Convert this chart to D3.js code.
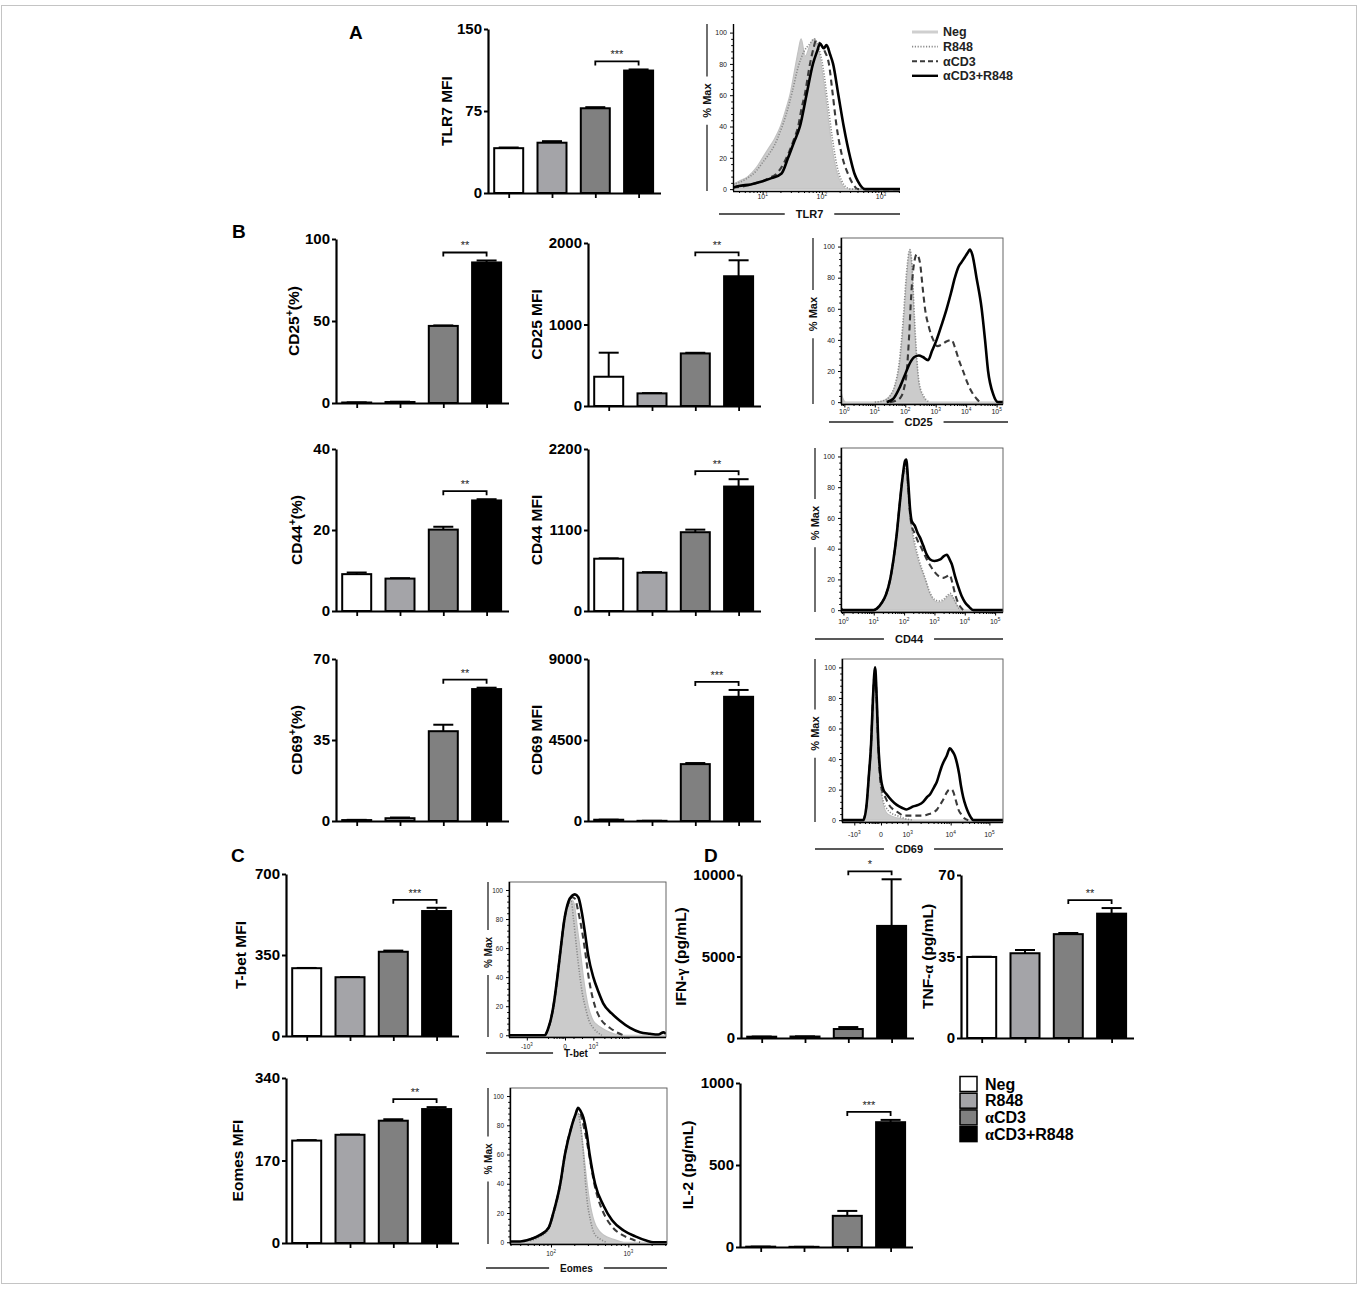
<!DOCTYPE html>
<html>
<head>
<meta charset="utf-8">
<script src="https://cdn.jsdelivr.net/npm/d3@7"></script>
<style>
  body { margin: 0; background: #fff; }
  svg text { font-family: "Liberation Sans", Arial, Helvetica, sans-serif; }
</style>
</head>
<body>
<svg id="fig" width="1360" height="1290"></svg>
<script>
// ---------- groups ----------
const groups = ["Neg", "R848", "αCD3", "αCD3+R848"];
const groupFill = ["#ffffff", "#a4a4a8", "#808080", "#000000"];

// ---------- bar panels (mean, SEM) ----------
const tlr7Mean = [41, 46, 77.5, 112];
const tlr7Err = [0.6, 1.4, 1.0, 1.0];
const tlr7Ticks = [0, 75, 150];

const cd25PctMean = [0.3, 0.6, 47, 85.7];
const cd25PctErr = [0.1, 0.2, 0.3, 1.2];
const cd25PctTicks = [0, 50, 100];

const cd25MfiMean = [359, 155, 645, 1592];
const cd25MfiErr = [295, 3, 8, 196];
const cd25MfiTicks = [0, 1000, 2000];

const cd44PctMean = [9.1, 8.0, 20.1, 27.3];
const cd44PctErr = [0.4, 0.1, 0.7, 0.3];
const cd44PctTicks = [0, 20, 40];

const cd44MfiMean = [710, 520, 1070, 1690];
const cd44MfiErr = [5, 8, 35, 100];
const cd44MfiTicks = [0, 1100, 2200];

const cd69PctMean = [0.4, 1.2, 38.8, 57];
const cd69PctErr = [0.1, 0.3, 2.8, 0.6];
const cd69PctTicks = [0, 35, 70];

const cd69MfiMean = [70, 10, 3160, 6900];
const cd69MfiErr = [5, 2, 60, 380];
const cd69MfiTicks = [0, 4500, 9000];

const tbetMean = [293, 254, 364, 540];
const tbetErr = [1, 1, 5, 14];
const tbetTicks = [0, 350, 700];

const eomesMean = [211, 223, 252, 276];
const eomesErr = [1, 0.5, 3, 4];
const eomesTicks = [0, 170, 340];

const ifngMean = [80, 90, 551, 6877];
const ifngErr = [10, 10, 120, 2860];
const ifngTicks = [0, 5000, 10000];

const tnfaMean = [34.8, 36.4, 44.6, 53.4];
const tnfaErr = [0.1, 1.4, 0.5, 2.4];
const tnfaTicks = [0, 35, 70];

const il2Mean = [2, 1, 190, 761];
const il2Err = [0.5, 0.2, 30, 14];
const il2Ticks = [0, 500, 1000];

// ---------- histogram overlays: [axis position, % of max] ----------
// TLR7 (log10 fluorescence)
const tlr7Neg = [[0.5,3],[0.6,5],[0.75,8],[0.9,14],[1.0,20],[1.1,26],[1.2,32],[1.3,40],[1.4,52],[1.46,60],[1.55,78],[1.6,88],[1.65,96],[1.72,85],[1.8,92],[1.88,96],[1.95,88],[2.02,72],[2.1,48],[2.18,25],[2.26,10],[2.34,3],[2.42,0],[3.32,0]];
const tlr7R848 = [[0.5,3],[0.7,6],[0.9,12],[1.0,17],[1.1,22],[1.2,28],[1.3,37],[1.4,48],[1.5,62],[1.6,78],[1.7,88],[1.8,93],[1.87,96],[1.95,90],[2.02,78],[2.1,55],[2.18,32],[2.26,14],[2.34,5],[2.42,1],[2.5,0],[3.32,0]];
const tlr7CD3 = [[0.5,1],[0.7,2],[0.9,4],[1.0,5],[1.1,7],[1.24,10],[1.35,16],[1.45,24],[1.53,32],[1.6,40],[1.66,52],[1.71,60],[1.8,80],[1.86,90],[1.9,95],[1.97,93],[2.05,88],[2.12,80],[2.18,62],[2.25,40],[2.35,20],[2.45,9],[2.53,3],[2.61,0],[3.32,0]];
const tlr7Combo = [[0.5,1],[0.6,2],[0.8,3],[1.0,5],[1.15,7],[1.32,10],[1.43,20],[1.53,30],[1.63,40],[1.74,60],[1.85,80],[1.92,88],[1.97,93],[2.03,90],[2.08,92],[2.14,86],[2.19,80],[2.28,60],[2.37,40],[2.48,20],[2.55,10],[2.61,5],[2.73,0],[3.32,0]];

// CD25 (log10)
const cd25Neg = [[-0.11,7],[-0.06,3],[0.05,0],[1.0,0],[1.3,1],[1.5,4],[1.66,10],[1.8,22],[1.94,50],[2.05,80],[2.15,98],[2.22,85],[2.3,50],[2.38,25],[2.46,10],[2.6,3],[2.76,0],[5.21,0]];
const cd25R848 = [[1.0,0],[1.3,1],[1.5,4],[1.66,11],[1.8,25],[1.94,55],[2.05,85],[2.15,98],[2.22,88],[2.3,55],[2.38,28],[2.46,12],[2.6,4],[2.8,0]];
const cd25CD3 = [[1.5,0],[1.7,1],[1.85,3],[1.95,8],[2.05,20],[2.12,40],[2.2,70],[2.28,88],[2.38,95],[2.48,90],[2.58,72],[2.65,60],[2.78,48],[2.92,40],[3.05,36],[3.2,37],[3.35,39],[3.52,40],[3.65,34],[3.78,26],[3.9,20],[4.05,12],[4.2,6],[4.35,2],[4.45,0]];
const cd25Combo = [[1.39,0],[1.6,2],[1.83,10],[2.0,18],[2.15,25],[2.3,29],[2.45,30],[2.58,29],[2.75,27],[2.88,33],[3.03,40],[3.2,50],[3.36,60],[3.5,70],[3.63,80],[3.75,87],[3.85,90],[3.95,93],[4.05,96],[4.12,98],[4.2,95],[4.34,80],[4.51,60],[4.62,40],[4.72,20],[4.89,5],[5.05,0],[5.21,0]];

// CD44 (log10)
const cd44Neg = [[-0.08,2],[0.02,0],[0.99,0],[1.1,1],[1.27,5],[1.4,9],[1.54,18],[1.65,30],[1.76,47],[1.86,67],[1.96,85],[2.03,91],[2.07,90],[2.13,75],[2.2,60],[2.28,48],[2.36,40],[2.5,30],[2.69,20],[2.86,10],[3.0,6],[3.15,5],[3.3,6],[3.45,9],[3.52,10],[3.62,8],[3.72,4],[3.85,0],[5.26,0]];
const cd44R848 = [[0.99,0],[1.1,1],[1.27,5],[1.4,9],[1.54,19],[1.65,31],[1.76,48],[1.86,68],[1.96,86],[2.03,92],[2.07,91],[2.13,77],[2.2,62],[2.28,51],[2.36,43],[2.5,32],[2.69,21],[2.86,11],[3.0,7],[3.15,6],[3.3,7],[3.45,10],[3.52,11],[3.62,8],[3.72,4],[3.85,0]];
const cd44CD3 = [[0.99,0],[1.1,1],[1.27,5],[1.4,10],[1.54,20],[1.65,33],[1.76,50],[1.86,70],[1.96,88],[2.03,95],[2.07,96],[2.13,82],[2.2,62],[2.25,55],[2.35,50],[2.45,45],[2.53,42],[2.63,38],[2.75,33],[2.86,29],[3.0,25],[3.15,22],[3.3,21],[3.41,22],[3.5,23],[3.6,17],[3.7,9],[3.8,4],[3.95,0]];
const cd44Combo = [[-0.08,1],[0.0,0],[0.99,0],[1.1,1],[1.27,5],[1.4,10],[1.54,20],[1.65,33],[1.76,50],[1.86,70],[1.96,88],[2.03,97],[2.07,98],[2.13,85],[2.2,65],[2.25,58],[2.35,55],[2.45,50],[2.53,47],[2.63,42],[2.75,36],[2.86,33],[3.0,32],[3.19,33],[3.3,35],[3.41,36],[3.5,33],[3.57,30],[3.68,22],[3.79,15],[3.9,9],[4.01,5],[4.15,2],[4.28,0],[5.26,0]];

// CD69 (biexponential display channel: 0 = 0, 1 = 10^3)
const cd69Neg = [[-1.46,0],[-0.66,0],[-0.54,10],[-0.45,30],[-0.37,50],[-0.3,78],[-0.22,95],[-0.16,75],[-0.1,45],[-0.02,22],[0.09,10],[0.2,5],[0.35,3],[0.6,1.5],[0.9,0.5],[1.2,0],[4.57,0]];
const cd69R848 = [[-0.66,0],[-0.54,10],[-0.45,30],[-0.37,50],[-0.3,78],[-0.22,96],[-0.16,76],[-0.1,46],[-0.02,25],[0.09,12],[0.2,8],[0.35,5],[0.6,3],[0.9,1],[1.2,0]];
const cd69CD3 = [[-0.66,0],[-0.54,10],[-0.45,30],[-0.37,50],[-0.3,80],[-0.22,99],[-0.16,78],[-0.1,48],[-0.02,25],[0.09,17],[0.16,15],[0.3,10],[0.46,7],[0.65,5],[0.84,3],[1.2,3],[1.58,3],[1.8,4],[1.96,5],[2.1,7],[2.21,10],[2.35,14],[2.46,18],[2.56,20],[2.65,20],[2.72,18],[2.77,15],[2.85,10],[2.9,7],[3.0,4],[3.08,2],[3.27,0]];
const cd69Combo = [[-1.46,0],[-0.66,0],[-0.54,10],[-0.45,30],[-0.37,50],[-0.3,80],[-0.22,100],[-0.16,80],[-0.1,50],[-0.02,30],[0.09,20],[0.21,17],[0.4,13],[0.59,10],[0.8,8],[0.96,7],[1.1,8],[1.21,9],[1.4,10],[1.58,12],[1.72,15],[1.84,17],[2.0,22],[2.09,25],[2.18,30],[2.27,35],[2.37,39],[2.46,42],[2.58,47],[2.68,45],[2.77,42],[2.85,37],[2.93,30],[3.0,22],[3.08,15],[3.18,9],[3.27,5],[3.36,2],[3.46,0],[4.57,0]];

// T-bet (biexponential display channel)
const tbetNeg = [[-0.71,0],[-0.59,4],[-0.5,10],[-0.41,18],[-0.27,38],[-0.15,58],[-0.02,78],[0.12,90],[0.25,93],[0.33,90],[0.43,75],[0.53,60],[0.65,40],[0.82,20],[1.0,10],[1.15,7],[1.3,5],[1.59,2],[2.0,0],[3.57,0]];
const tbetR848 = [[-0.71,0],[-0.59,4],[-0.5,10],[-0.41,18],[-0.27,38],[-0.15,58],[-0.02,78],[0.12,90],[0.22,92],[0.3,80],[0.41,60],[0.53,40],[0.62,28],[0.71,20],[0.85,10],[1.0,5],[1.15,2],[1.3,0]];
const tbetCD3 = [[-0.71,0],[-0.59,5],[-0.5,11],[-0.41,20],[-0.27,40],[-0.15,60],[-0.02,80],[0.12,91],[0.25,95],[0.35,94],[0.47,85],[0.6,72],[0.71,58],[0.82,42],[0.95,28],[1.06,20],[1.18,14],[1.3,10],[1.45,7],[1.59,5],[1.83,2],[2.07,0]];
const tbetCombo = [[-1.98,0],[-0.71,0],[-0.59,5],[-0.5,11],[-0.41,20],[-0.27,40],[-0.15,60],[-0.02,80],[0.12,92],[0.25,96],[0.35,97],[0.47,95],[0.59,85],[0.71,70],[0.82,55],[1.0,40],[1.18,30],[1.35,22],[1.65,15],[1.94,10],[2.3,5],[2.65,2],[3.0,1],[3.3,0.5],[3.48,2],[3.57,1]];

// Eomes (log10)
const eomesNeg = [[1.47,0],[1.6,0],[1.73,1],[1.86,4],[1.97,9],[2.03,18],[2.12,38],[2.18,58],[2.27,80],[2.32,86],[2.35,88],[2.38,82],[2.41,68],[2.45,48],[2.5,28],[2.56,14],[2.62,8],[2.68,5],[2.81,2],[2.94,0],[3.5,0]];
const eomesR848 = [[1.73,1],[1.86,4],[1.97,9],[2.03,18],[2.12,38],[2.18,58],[2.27,80],[2.32,87],[2.35,88],[2.38,80],[2.42,60],[2.46,32],[2.51,15],[2.56,6],[2.64,2],[2.72,0]];
const eomesCD3 = [[1.73,2],[1.86,5],[1.97,10],[2.03,20],[2.12,40],[2.18,60],[2.27,80],[2.32,88],[2.35,91],[2.38,88],[2.42,80],[2.46,70],[2.5,58],[2.56,40],[2.62,28],[2.68,20],[2.8,10],[2.92,5],[3.05,2],[3.15,0]];
const eomesCombo = [[1.47,0.5],[1.6,0.5],[1.73,2],[1.86,5],[1.97,10],[2.03,20],[2.12,40],[2.18,60],[2.27,80],[2.32,88],[2.35,92],[2.38,90],[2.42,85],[2.46,75],[2.5,60],[2.57,40],[2.68,25],[2.79,15],[2.94,8],[3.09,4],[3.24,1],[3.32,0],[3.5,0]];

// biexponential axis labels: [position, base, exponent]
const cd69XTicks = [[-1, "-10", "3"], [0, "0", ""], [1, "10", "3"], [2.61, "10", "4"], [4.06, "10", "5"]];
const tbetXTicks = [[-1.35, "-10", "3"], [0, "0", ""], [1, "10", "3"]];
const histYTicks = [0, 20, 40, 60, 80, 100];

// ---------- drawing ----------
const svg = d3.select("#fig");
const SERIF = "'Liberation Serif', 'Times New Roman', serif";
let clipCount = 0;

// outer frame
svg.append("rect").attr("x", 1.5).attr("y", 5.5).attr("width", 1355).attr("height", 1278)
  .attr("fill", "none").attr("stroke", "#c4c4c4").attr("stroke-width", 1);

// text with optional superscripts / serif Greek letters
function rich(sel, parts, fs) {
  let shift = 0;
  parts.forEach(p => {
    const ts = sel.append("tspan").text(p.t);
    const target = p.sup ? -fs * 0.42 : 0;
    if (target !== shift) { ts.attr("dy", target - shift); shift = target; }
    if (p.sup) ts.attr("font-size", fs * 0.68);
    if (p.serif) ts.attr("font-family", SERIF);
  });
}

function barChart(o) {
  const g = svg.append("g");
  const y = d3.scaleLinear().domain([0, o.max]).range([o.yBot, o.yTop]);
  const first = o.x0 + 20.7, step = 43.3, bw = 29;
  const x = d3.scalePoint().domain(groups).range([first, first + 3 * step]);
  const xEnd = o.x0 + 173;
  const rows = groups.map((k, i) => ({ k, m: o.mean[i], e: o.err[i], fill: groupFill[i] }));

  // error bars (upper SEM)
  const eb = g.selectAll("g.err").data(rows).join("g");
  eb.append("line").attr("x1", d => x(d.k)).attr("x2", d => x(d.k))
    .attr("y1", d => y(d.m)).attr("y2", d => y(d.m + d.e))
    .attr("stroke", "#000").attr("stroke-width", 2);
  eb.append("line").attr("x1", d => x(d.k) - 10).attr("x2", d => x(d.k) + 10)
    .attr("y1", d => y(d.m + d.e)).attr("y2", d => y(d.m + d.e))
    .attr("stroke", "#000").attr("stroke-width", 2);

  // bars
  g.selectAll("rect.bar").data(rows).join("rect").attr("class", "bar")
    .attr("x", d => x(d.k) - bw / 2).attr("y", d => y(d.m))
    .attr("width", bw).attr("height", d => Math.max(0, o.yBot - y(d.m)))
    .attr("fill", d => d.fill).attr("stroke", "#000").attr("stroke-width", 2);

  // x axis
  const xa = g.append("g").attr("transform", `translate(0,${o.yBot})`)
    .call(d3.axisBottom(x).tickSize(5).tickSizeOuter(0).tickFormat(() => ""));
  xa.select(".domain").attr("d", `M${o.x0},0.5H${xEnd}`).attr("stroke-width", 2.2);
  xa.selectAll(".tick line").attr("stroke-width", 1.8);

  // y axis
  const ya = g.append("g").attr("transform", `translate(${o.x0},0)`)
    .call(d3.axisLeft(y).tickValues(o.ticks).tickSize(4).tickSizeOuter(0).tickPadding(2).tickFormat(d => d));
  ya.select(".domain").attr("stroke-width", 2.2);
  ya.selectAll(".tick line").attr("stroke-width", 2);
  ya.selectAll(".tick text").attr("font-size", 15).attr("font-weight", "bold")
    .attr("fill", "#000").style("font-family", "'Liberation Sans', Arial, sans-serif");

  // y label
  const lab = g.append("text")
    .attr("transform", `translate(${o.labelX},${(o.yTop + o.yBot) / 2}) rotate(-90)`)
    .attr("text-anchor", "middle").attr("dy", "0.35em")
    .attr("font-size", 15.5).attr("font-weight", "bold").attr("fill", "#000");
  rich(lab, o.label, 15.5);

  // significance bracket between the two αCD3 groups
  const xa3 = x(groups[2]), xb3 = x(groups[3]);
  const by = Math.min(y(o.mean[2] + o.err[2]), y(o.mean[3] + o.err[3])) - 8;
  g.append("path").attr("d", `M${xa3},${by + 4}V${by}H${xb3}V${by + 4}`)
    .attr("fill", "none").attr("stroke", "#000").attr("stroke-width", 1.8);
  g.append("text").attr("x", (xa3 + xb3) / 2).attr("y", by - 3).attr("text-anchor", "middle")
    .attr("font-size", 11).attr("fill", "#222").text(o.sig);
}

function logTicks(domain) {
  const major = [], minor = [];
  for (let n = Math.floor(domain[0]); n <= Math.ceil(domain[1]); n++) {
    if (n >= domain[0] && n <= domain[1]) major.push([n, "10", String(n)]);
    for (let k = 2; k <= 9; k++) {
      const v = n + Math.log10(k);
      if (v >= domain[0] && v <= domain[1]) minor.push(v);
    }
  }
  return { major, minor };
}

function histPanel(o) {
  const g = svg.append("g");
  const x = d3.scaleLinear().domain(o.xDomain).range([o.L, o.R]);
  const y = d3.scaleLinear().domain([-1.2, 105.5]).range([o.B, o.T]);
  const id = "clip" + (clipCount++);
  g.append("clipPath").attr("id", id).append("rect")
    .attr("x", o.L).attr("y", o.T).attr("width", o.R - o.L).attr("height", o.B - o.T);
  const pg = g.append("g").attr("clip-path", `url(#${id})`);
  const line = d3.line().x(d => x(d[0])).y(d => y(d[1])).curve(d3.curveMonotoneX);
  const area = d3.area().x(d => x(d[0])).y0(y(0)).y1(d => y(d[1])).curve(d3.curveMonotoneX);

  pg.append("path").attr("d", area(o.neg)).attr("fill", "#cbcbcb").attr("stroke", "#c2c2c2").attr("stroke-width", 1.2);
  pg.append("path").attr("d", line(o.r848)).attr("fill", "none").attr("stroke", "#8a8a8a")
    .attr("stroke-width", 1.6).attr("stroke-dasharray", "1.2,1.6");
  pg.append("path").attr("d", line(o.cd3)).attr("fill", "none").attr("stroke", "#3a3a3a")
    .attr("stroke-width", 2.1).attr("stroke-dasharray", "6,4");
  pg.append("path").attr("d", line(o.combo)).attr("fill", "none").attr("stroke", "#000")
    .attr("stroke-width", 2.6).attr("stroke-linejoin", "round");

  if (o.box) {
    g.append("rect").attr("x", o.L).attr("y", o.T).attr("width", o.R - o.L).attr("height", o.B - o.T)
      .attr("fill", "none").attr("stroke", "#555").attr("stroke-width", 0.9);
  }

  // y axis
  const ya = g.append("g").attr("transform", `translate(${o.L},0)`)
    .call(d3.axisLeft(y).tickValues(histYTicks).tickSize(3).tickSizeOuter(0).tickPadding(3));
  ya.select(".domain").attr("d", `M0.5,${o.T}V${o.B}`).attr("stroke-width", 1.4);
  ya.selectAll(".tick text").attr("font-size", o.tickFs).attr("fill", "#222")
    .style("font-family", "'Liberation Sans', Arial, sans-serif");
  const yMinor = d3.range(0, 101, 4).filter(v => v % 20 !== 0);
  const ym = g.append("g").attr("transform", `translate(${o.L},0)`)
    .call(d3.axisLeft(y).tickValues(yMinor).tickSize(1.8).tickFormat(() => ""));
  ym.select(".domain").remove();

  // x axis
  const tk = o.log ? logTicks(o.xDomain) : { major: o.xTicks, minor: o.xMinor };
  const xa = g.append("g").attr("transform", `translate(0,${o.B})`)
    .call(d3.axisBottom(x).tickValues(tk.major.map(d => d[0])).tickSize(3.5).tickSizeOuter(0).tickFormat(() => ""));
  xa.select(".domain").attr("d", `M${o.L},0.5H${o.R}`).attr("stroke-width", 1.4);
  const xm = g.append("g").attr("transform", `translate(0,${o.B})`)
    .call(d3.axisBottom(x).tickValues(tk.minor).tickSize(2).tickFormat(() => ""));
  xm.select(".domain").remove();
  tk.major.forEach(t => {
    const tx = g.append("text").attr("x", x(t[0])).attr("y", o.B + o.tickDy)
      .attr("text-anchor", "middle").attr("font-size", o.tickFs).attr("fill", "#222");
    const parts = [{ t: t[1] }];
    if (t[2]) parts.push({ t: t[2], sup: true });
    rich(tx, parts, o.tickFs);
  });

  // x label with rules either side
  const x1 = o.L - o.lx, x2 = o.R + o.rx, cx = (x1 + x2) / 2, ly = o.B + o.labelDy;
  const xl = g.append("text").attr("x", cx).attr("y", ly).attr("dy", "0.35em").attr("text-anchor", "middle")
    .attr("font-size", o.labFs).attr("font-weight", "bold").attr("fill", "#111").text(o.xLabel);
  const hw = xl.node().getComputedTextLength() / 2 + 11;
  g.append("line").attr("x1", x1).attr("x2", cx - hw).attr("y1", ly).attr("y2", ly).attr("stroke", "#222").attr("stroke-width", 1.3);
  g.append("line").attr("x1", cx + hw).attr("x2", x2).attr("y1", ly).attr("y2", ly).attr("stroke", "#222").attr("stroke-width", 1.3);

  // % Max label with rules above and below
  const px = o.L - o.pm, pyc = (o.T + o.B) / 2 - 7;
  const yl = g.append("text").attr("transform", `translate(${px},${pyc}) rotate(-90)`)
    .attr("text-anchor", "middle").attr("dy", "0.35em")
    .attr("font-size", o.labFs).attr("font-weight", "bold").attr("fill", "#111").text("% Max");
  const vh = yl.node().getComputedTextLength() / 2 + 7;
  g.append("line").attr("x1", px).attr("x2", px).attr("y1", o.T).attr("y2", pyc - vh).attr("stroke", "#222").attr("stroke-width", 1.3);
  g.append("line").attr("x1", px).attr("x2", px).attr("y1", pyc + vh).attr("y2", o.B).attr("stroke", "#222").attr("stroke-width", 1.3);
}

// ---------- panel letters ----------
[["A", 349, 39], ["B", 232, 238], ["C", 231, 862], ["D", 704, 862]].forEach(p => {
  svg.append("text").attr("x", p[1]).attr("y", p[2]).attr("font-size", 19)
    .attr("font-weight", "bold").attr("fill", "#000").text(p[0]);
});

// ---------- bar panels ----------
barChart({ x0: 488, yTop: 29, yBot: 193, max: 150, ticks: tlr7Ticks, mean: tlr7Mean, err: tlr7Err, sig: "***", labelX: 447, label: [{ t: "TLR7 MFI" }] });
barChart({ x0: 336, yTop: 239, yBot: 403, max: 100, ticks: cd25PctTicks, mean: cd25PctMean, err: cd25PctErr, sig: "**", labelX: 294, label: [{ t: "CD25" }, { t: "+", sup: true }, { t: "(%)" }] });
barChart({ x0: 588, yTop: 243, yBot: 406, max: 2000, ticks: cd25MfiTicks, mean: cd25MfiMean, err: cd25MfiErr, sig: "**", labelX: 537, label: [{ t: "CD25 MFI" }] });
barChart({ x0: 336, yTop: 449, yBot: 611, max: 40, ticks: cd44PctTicks, mean: cd44PctMean, err: cd44PctErr, sig: "**", labelX: 297, label: [{ t: "CD44" }, { t: "+", sup: true }, { t: "(%)" }] });
barChart({ x0: 588, yTop: 449, yBot: 611, max: 2200, ticks: cd44MfiTicks, mean: cd44MfiMean, err: cd44MfiErr, sig: "**", labelX: 537, label: [{ t: "CD44 MFI" }] });
barChart({ x0: 336, yTop: 659, yBot: 821, max: 70, ticks: cd69PctTicks, mean: cd69PctMean, err: cd69PctErr, sig: "**", labelX: 297, label: [{ t: "CD69" }, { t: "+", sup: true }, { t: "(%)" }] });
barChart({ x0: 588, yTop: 659, yBot: 821, max: 9000, ticks: cd69MfiTicks, mean: cd69MfiMean, err: cd69MfiErr, sig: "***", labelX: 537, label: [{ t: "CD69 MFI" }] });
barChart({ x0: 286, yTop: 874, yBot: 1036, max: 700, ticks: tbetTicks, mean: tbetMean, err: tbetErr, sig: "***", labelX: 241, label: [{ t: "T-bet MFI" }] });
barChart({ x0: 286, yTop: 1078, yBot: 1243, max: 340, ticks: eomesTicks, mean: eomesMean, err: eomesErr, sig: "**", labelX: 238, label: [{ t: "Eomes MFI" }] });
barChart({ x0: 741, yTop: 875, yBot: 1038, max: 10000, ticks: ifngTicks, mean: ifngMean, err: ifngErr, sig: "*", labelX: 681, label: [{ t: "IFN-" }, { t: "γ", serif: true }, { t: " (pg/mL)" }] });
barChart({ x0: 961, yTop: 875, yBot: 1038, max: 70, ticks: tnfaTicks, mean: tnfaMean, err: tnfaErr, sig: "**", labelX: 928, label: [{ t: "TNF-" }, { t: "α", serif: true }, { t: " (pg/mL)" }] });
barChart({ x0: 740, yTop: 1083, yBot: 1247, max: 1000, ticks: il2Ticks, mean: il2Mean, err: il2Err, sig: "***", labelX: 688, label: [{ t: "IL-2 (pg/mL)" }] });

// ---------- histogram panels ----------
histPanel({ L: 733, R: 900, T: 24, B: 191, xDomain: [0.5, 3.32], log: true, box: false, tickDy: 8, labelDy: 23, lx: 14, rx: 0, pm: 26, tickFs: 7, labFs: 11, xLabel: "TLR7", neg: tlr7Neg, r848: tlr7R848, cd3: tlr7CD3, combo: tlr7Combo });
histPanel({ L: 841, R: 1003, T: 238, B: 404, xDomain: [-0.11, 5.21], log: true, box: true, tickDy: 10, labelDy: 18, lx: 12, rx: 5, pm: 28, tickFs: 7, labFs: 11, xLabel: "CD25", neg: cd25Neg, r848: cd25R848, cd3: cd25CD3, combo: cd25Combo });
histPanel({ L: 841, R: 1003, T: 448, B: 612, xDomain: [-0.08, 5.26], log: true, box: true, tickDy: 12, labelDy: 27, lx: 26, rx: 0, pm: 26, tickFs: 7, labFs: 11, xLabel: "CD44", neg: cd44Neg, r848: cd44R848, cd3: cd44CD3, combo: cd44Combo });
histPanel({ L: 842, R: 1003, T: 659, B: 822, xDomain: [-1.46, 4.57], log: false, box: true, tickDy: 15, labelDy: 27, lx: 27, rx: 0, pm: 27, tickFs: 7, labFs: 11, xLabel: "CD69",
  xTicks: cd69XTicks, xMinor: [-0.8, -0.6, -0.45, -0.35, -0.28, -0.22, -0.16, -0.1, 0.2, 0.4, 0.6, 0.8].concat(d3.range(2, 10).map(k => 1 + Math.log10(k) * 1.61), d3.range(2, 10).map(k => 2.61 + Math.log10(k) * 1.45)),
  neg: cd69Neg, r848: cd69R848, cd3: cd69CD3, combo: cd69Combo });
histPanel({ L: 509, R: 666, T: 882, B: 1037, xDomain: [-1.98, 3.57], log: false, box: true, tickDy: 12, labelDy: 16, lx: 23, rx: 0, pm: 21, tickFs: 6.5, labFs: 10, xLabel: "T-bet",
  xTicks: tbetXTicks, xMinor: [-0.6, -0.4, -0.3, -0.2, -0.12, -0.06, 0.3, 0.6].concat(d3.range(2, 10).map(k => 1 + Math.log10(k) * 1.3)),
  neg: tbetNeg, r848: tbetR848, cd3: tbetCD3, combo: tbetCombo });
histPanel({ L: 510, R: 667, T: 1088, B: 1244, xDomain: [1.47, 3.5], log: true, box: true, tickDy: 12, labelDy: 24, lx: 24, rx: 0, pm: 22, tickFs: 6.5, labFs: 10, xLabel: "Eomes", neg: eomesNeg, r848: eomesR848, cd3: eomesCD3, combo: eomesCombo });

// ---------- legend for histogram overlays ----------
const histLegend = svg.append("g");
const histStyles = [
  { stroke: "#cfcfcf", w: 3, dash: null },
  { stroke: "#8a8a8a", w: 1.8, dash: "1.2,1.6" },
  { stroke: "#3a3a3a", w: 2, dash: "5,3" },
  { stroke: "#000", w: 2.4, dash: null }
];
groups.forEach((name, i) => {
  const yy = 32 + i * 14.6;
  histLegend.append("line").attr("x1", 912).attr("x2", 938).attr("y1", yy).attr("y2", yy)
    .attr("stroke", histStyles[i].stroke).attr("stroke-width", histStyles[i].w)
    .attr("stroke-dasharray", histStyles[i].dash);
  histLegend.append("text").attr("x", 943).attr("y", yy).attr("dy", "0.35em")
    .attr("font-size", 12.5).attr("font-weight", "bold").attr("fill", "#222").text(name);
});

// ---------- legend for bar groups ----------
const barLegend = svg.append("g");
groups.forEach((name, i) => {
  const yy = 1084 + i * 16.7;
  barLegend.append("rect").attr("x", 960).attr("y", yy - 7.5).attr("width", 17).attr("height", 15)
    .attr("fill", groupFill[i]).attr("stroke", "#000").attr("stroke-width", 1.5);
  const t = barLegend.append("text").attr("x", 985).attr("y", yy).attr("dy", "0.36em")
    .attr("font-size", 16).attr("font-weight", "bold").attr("fill", "#000");
  const parts = name.startsWith("α") ? [{ t: "α", serif: true }, { t: name.slice(1) }] : [{ t: name }];
  rich(t, parts, 16);
});
</script>
</body>
</html>
